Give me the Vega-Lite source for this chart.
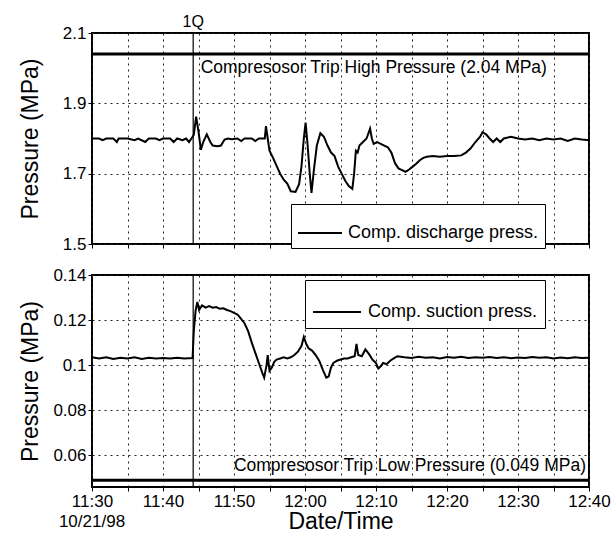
{
  "$schema": "https://vega.github.io/schema/vega-lite/v6.json",
  "padding": {"left": 18, "top": 13, "right": 0, "bottom": 0},
  "config": {
    "font": "Liberation Sans",
    "view": {"stroke": "black", "strokeWidth": 2},
    "axis": {
      "domain": false,
      "labelFontSize": 17,
      "labelColor": "black",
      "titleFontSize": 23,
      "titleFontWeight": "normal",
      "titleColor": "black",
      "tickColor": "black",
      "tickSize": 4,
      "labelPadding": 2,
      "gridColor": "#222222",
      "gridDash": [2, 4]
    },
    "concat": {"spacing": 12}
  },
  "datasets": {
    "discharge": [
      {"time": "1998-10-21T11:30:00", "pressure": 1.800, "series": "Comp. discharge press."},
      {"time": "1998-10-21T11:31:00", "pressure": 1.800, "series": "Comp. discharge press."},
      {"time": "1998-10-21T11:31:30", "pressure": 1.795, "series": "Comp. discharge press."},
      {"time": "1998-10-21T11:32:00", "pressure": 1.800, "series": "Comp. discharge press."},
      {"time": "1998-10-21T11:33:00", "pressure": 1.800, "series": "Comp. discharge press."},
      {"time": "1998-10-21T11:33:30", "pressure": 1.790, "series": "Comp. discharge press."},
      {"time": "1998-10-21T11:33:45", "pressure": 1.800, "series": "Comp. discharge press."},
      {"time": "1998-10-21T11:35:00", "pressure": 1.800, "series": "Comp. discharge press."},
      {"time": "1998-10-21T11:36:00", "pressure": 1.795, "series": "Comp. discharge press."},
      {"time": "1998-10-21T11:36:30", "pressure": 1.800, "series": "Comp. discharge press."},
      {"time": "1998-10-21T11:37:30", "pressure": 1.790, "series": "Comp. discharge press."},
      {"time": "1998-10-21T11:38:00", "pressure": 1.800, "series": "Comp. discharge press."},
      {"time": "1998-10-21T11:39:00", "pressure": 1.800, "series": "Comp. discharge press."},
      {"time": "1998-10-21T11:39:30", "pressure": 1.795, "series": "Comp. discharge press."},
      {"time": "1998-10-21T11:40:00", "pressure": 1.800, "series": "Comp. discharge press."},
      {"time": "1998-10-21T11:41:00", "pressure": 1.800, "series": "Comp. discharge press."},
      {"time": "1998-10-21T11:41:30", "pressure": 1.790, "series": "Comp. discharge press."},
      {"time": "1998-10-21T11:42:00", "pressure": 1.800, "series": "Comp. discharge press."},
      {"time": "1998-10-21T11:42:45", "pressure": 1.795, "series": "Comp. discharge press."},
      {"time": "1998-10-21T11:43:15", "pressure": 1.800, "series": "Comp. discharge press."},
      {"time": "1998-10-21T11:43:40", "pressure": 1.790, "series": "Comp. discharge press."},
      {"time": "1998-10-21T11:44:00", "pressure": 1.800, "series": "Comp. discharge press."},
      {"time": "1998-10-21T11:44:20", "pressure": 1.810, "series": "Comp. discharge press."},
      {"time": "1998-10-21T11:44:40", "pressure": 1.862, "series": "Comp. discharge press."},
      {"time": "1998-10-21T11:45:00", "pressure": 1.820, "series": "Comp. discharge press."},
      {"time": "1998-10-21T11:45:20", "pressure": 1.768, "series": "Comp. discharge press."},
      {"time": "1998-10-21T11:45:40", "pressure": 1.790, "series": "Comp. discharge press."},
      {"time": "1998-10-21T11:46:10", "pressure": 1.812, "series": "Comp. discharge press."},
      {"time": "1998-10-21T11:46:40", "pressure": 1.790, "series": "Comp. discharge press."},
      {"time": "1998-10-21T11:47:00", "pressure": 1.780, "series": "Comp. discharge press."},
      {"time": "1998-10-21T11:47:40", "pressure": 1.778, "series": "Comp. discharge press."},
      {"time": "1998-10-21T11:48:10", "pressure": 1.780, "series": "Comp. discharge press."},
      {"time": "1998-10-21T11:48:40", "pressure": 1.797, "series": "Comp. discharge press."},
      {"time": "1998-10-21T11:49:10", "pressure": 1.800, "series": "Comp. discharge press."},
      {"time": "1998-10-21T11:49:40", "pressure": 1.798, "series": "Comp. discharge press."},
      {"time": "1998-10-21T11:50:30", "pressure": 1.800, "series": "Comp. discharge press."},
      {"time": "1998-10-21T11:51:00", "pressure": 1.793, "series": "Comp. discharge press."},
      {"time": "1998-10-21T11:51:30", "pressure": 1.800, "series": "Comp. discharge press."},
      {"time": "1998-10-21T11:52:30", "pressure": 1.800, "series": "Comp. discharge press."},
      {"time": "1998-10-21T11:53:00", "pressure": 1.793, "series": "Comp. discharge press."},
      {"time": "1998-10-21T11:53:30", "pressure": 1.800, "series": "Comp. discharge press."},
      {"time": "1998-10-21T11:54:20", "pressure": 1.800, "series": "Comp. discharge press."},
      {"time": "1998-10-21T11:54:30", "pressure": 1.835, "series": "Comp. discharge press."},
      {"time": "1998-10-21T11:54:45", "pressure": 1.800, "series": "Comp. discharge press."},
      {"time": "1998-10-21T11:55:00", "pressure": 1.765, "series": "Comp. discharge press."},
      {"time": "1998-10-21T11:55:30", "pressure": 1.745, "series": "Comp. discharge press."},
      {"time": "1998-10-21T11:56:00", "pressure": 1.722, "series": "Comp. discharge press."},
      {"time": "1998-10-21T11:56:30", "pressure": 1.700, "series": "Comp. discharge press."},
      {"time": "1998-10-21T11:57:00", "pressure": 1.683, "series": "Comp. discharge press."},
      {"time": "1998-10-21T11:57:30", "pressure": 1.672, "series": "Comp. discharge press."},
      {"time": "1998-10-21T11:58:00", "pressure": 1.650, "series": "Comp. discharge press."},
      {"time": "1998-10-21T11:58:40", "pressure": 1.648, "series": "Comp. discharge press."},
      {"time": "1998-10-21T11:59:10", "pressure": 1.670, "series": "Comp. discharge press."},
      {"time": "1998-10-21T11:59:30", "pressure": 1.720, "series": "Comp. discharge press."},
      {"time": "1998-10-21T11:59:50", "pressure": 1.800, "series": "Comp. discharge press."},
      {"time": "1998-10-21T12:00:05", "pressure": 1.845, "series": "Comp. discharge press."},
      {"time": "1998-10-21T12:00:20", "pressure": 1.790, "series": "Comp. discharge press."},
      {"time": "1998-10-21T12:00:40", "pressure": 1.700, "series": "Comp. discharge press."},
      {"time": "1998-10-21T12:00:55", "pressure": 1.645, "series": "Comp. discharge press."},
      {"time": "1998-10-21T12:01:15", "pressure": 1.710, "series": "Comp. discharge press."},
      {"time": "1998-10-21T12:01:40", "pressure": 1.780, "series": "Comp. discharge press."},
      {"time": "1998-10-21T12:02:10", "pressure": 1.815, "series": "Comp. discharge press."},
      {"time": "1998-10-21T12:02:40", "pressure": 1.805, "series": "Comp. discharge press."},
      {"time": "1998-10-21T12:03:10", "pressure": 1.780, "series": "Comp. discharge press."},
      {"time": "1998-10-21T12:03:40", "pressure": 1.760, "series": "Comp. discharge press."},
      {"time": "1998-10-21T12:04:10", "pressure": 1.750, "series": "Comp. discharge press."},
      {"time": "1998-10-21T12:04:40", "pressure": 1.720, "series": "Comp. discharge press."},
      {"time": "1998-10-21T12:05:10", "pressure": 1.700, "series": "Comp. discharge press."},
      {"time": "1998-10-21T12:05:40", "pressure": 1.680, "series": "Comp. discharge press."},
      {"time": "1998-10-21T12:06:10", "pressure": 1.665, "series": "Comp. discharge press."},
      {"time": "1998-10-21T12:06:40", "pressure": 1.657, "series": "Comp. discharge press."},
      {"time": "1998-10-21T12:06:55", "pressure": 1.700, "series": "Comp. discharge press."},
      {"time": "1998-10-21T12:07:10", "pressure": 1.765, "series": "Comp. discharge press."},
      {"time": "1998-10-21T12:07:25", "pressure": 1.760, "series": "Comp. discharge press."},
      {"time": "1998-10-21T12:07:40", "pressure": 1.780, "series": "Comp. discharge press."},
      {"time": "1998-10-21T12:08:10", "pressure": 1.790, "series": "Comp. discharge press."},
      {"time": "1998-10-21T12:08:40", "pressure": 1.800, "series": "Comp. discharge press."},
      {"time": "1998-10-21T12:09:10", "pressure": 1.828, "series": "Comp. discharge press."},
      {"time": "1998-10-21T12:09:25", "pressure": 1.800, "series": "Comp. discharge press."},
      {"time": "1998-10-21T12:09:40", "pressure": 1.785, "series": "Comp. discharge press."},
      {"time": "1998-10-21T12:10:10", "pressure": 1.790, "series": "Comp. discharge press."},
      {"time": "1998-10-21T12:10:40", "pressure": 1.785, "series": "Comp. discharge press."},
      {"time": "1998-10-21T12:11:10", "pressure": 1.780, "series": "Comp. discharge press."},
      {"time": "1998-10-21T12:11:40", "pressure": 1.775, "series": "Comp. discharge press."},
      {"time": "1998-10-21T12:12:10", "pressure": 1.760, "series": "Comp. discharge press."},
      {"time": "1998-10-21T12:12:40", "pressure": 1.730, "series": "Comp. discharge press."},
      {"time": "1998-10-21T12:13:10", "pressure": 1.715, "series": "Comp. discharge press."},
      {"time": "1998-10-21T12:13:40", "pressure": 1.710, "series": "Comp. discharge press."},
      {"time": "1998-10-21T12:14:10", "pressure": 1.705, "series": "Comp. discharge press."},
      {"time": "1998-10-21T12:14:40", "pressure": 1.712, "series": "Comp. discharge press."},
      {"time": "1998-10-21T12:15:10", "pressure": 1.720, "series": "Comp. discharge press."},
      {"time": "1998-10-21T12:15:40", "pressure": 1.728, "series": "Comp. discharge press."},
      {"time": "1998-10-21T12:16:10", "pressure": 1.738, "series": "Comp. discharge press."},
      {"time": "1998-10-21T12:16:40", "pressure": 1.745, "series": "Comp. discharge press."},
      {"time": "1998-10-21T12:17:10", "pressure": 1.748, "series": "Comp. discharge press."},
      {"time": "1998-10-21T12:18:00", "pressure": 1.750, "series": "Comp. discharge press."},
      {"time": "1998-10-21T12:19:00", "pressure": 1.748, "series": "Comp. discharge press."},
      {"time": "1998-10-21T12:20:00", "pressure": 1.750, "series": "Comp. discharge press."},
      {"time": "1998-10-21T12:21:00", "pressure": 1.750, "series": "Comp. discharge press."},
      {"time": "1998-10-21T12:22:00", "pressure": 1.752, "series": "Comp. discharge press."},
      {"time": "1998-10-21T12:22:40", "pressure": 1.760, "series": "Comp. discharge press."},
      {"time": "1998-10-21T12:23:20", "pressure": 1.772, "series": "Comp. discharge press."},
      {"time": "1998-10-21T12:24:00", "pressure": 1.790, "series": "Comp. discharge press."},
      {"time": "1998-10-21T12:24:40", "pressure": 1.805, "series": "Comp. discharge press."},
      {"time": "1998-10-21T12:25:00", "pressure": 1.818, "series": "Comp. discharge press."},
      {"time": "1998-10-21T12:25:30", "pressure": 1.812, "series": "Comp. discharge press."},
      {"time": "1998-10-21T12:26:00", "pressure": 1.800, "series": "Comp. discharge press."},
      {"time": "1998-10-21T12:26:30", "pressure": 1.790, "series": "Comp. discharge press."},
      {"time": "1998-10-21T12:27:00", "pressure": 1.800, "series": "Comp. discharge press."},
      {"time": "1998-10-21T12:27:30", "pressure": 1.790, "series": "Comp. discharge press."},
      {"time": "1998-10-21T12:28:00", "pressure": 1.800, "series": "Comp. discharge press."},
      {"time": "1998-10-21T12:29:00", "pressure": 1.805, "series": "Comp. discharge press."},
      {"time": "1998-10-21T12:30:00", "pressure": 1.800, "series": "Comp. discharge press."},
      {"time": "1998-10-21T12:31:00", "pressure": 1.797, "series": "Comp. discharge press."},
      {"time": "1998-10-21T12:32:00", "pressure": 1.800, "series": "Comp. discharge press."},
      {"time": "1998-10-21T12:33:00", "pressure": 1.795, "series": "Comp. discharge press."},
      {"time": "1998-10-21T12:34:00", "pressure": 1.800, "series": "Comp. discharge press."},
      {"time": "1998-10-21T12:35:00", "pressure": 1.797, "series": "Comp. discharge press."},
      {"time": "1998-10-21T12:36:00", "pressure": 1.800, "series": "Comp. discharge press."},
      {"time": "1998-10-21T12:37:00", "pressure": 1.793, "series": "Comp. discharge press."},
      {"time": "1998-10-21T12:38:00", "pressure": 1.800, "series": "Comp. discharge press."},
      {"time": "1998-10-21T12:39:00", "pressure": 1.797, "series": "Comp. discharge press."},
      {"time": "1998-10-21T12:40:00", "pressure": 1.795, "series": "Comp. discharge press."}
    ],
    "suction": [
      {"time": "1998-10-21T11:30:00", "pressure": 0.1035, "series": "Comp. suction press."},
      {"time": "1998-10-21T11:31:00", "pressure": 0.1030, "series": "Comp. suction press."},
      {"time": "1998-10-21T11:32:00", "pressure": 0.1035, "series": "Comp. suction press."},
      {"time": "1998-10-21T11:33:00", "pressure": 0.1028, "series": "Comp. suction press."},
      {"time": "1998-10-21T11:34:00", "pressure": 0.1033, "series": "Comp. suction press."},
      {"time": "1998-10-21T11:35:00", "pressure": 0.1030, "series": "Comp. suction press."},
      {"time": "1998-10-21T11:36:00", "pressure": 0.1035, "series": "Comp. suction press."},
      {"time": "1998-10-21T11:37:00", "pressure": 0.1028, "series": "Comp. suction press."},
      {"time": "1998-10-21T11:38:00", "pressure": 0.1033, "series": "Comp. suction press."},
      {"time": "1998-10-21T11:39:00", "pressure": 0.1030, "series": "Comp. suction press."},
      {"time": "1998-10-21T11:40:00", "pressure": 0.1032, "series": "Comp. suction press."},
      {"time": "1998-10-21T11:41:00", "pressure": 0.1030, "series": "Comp. suction press."},
      {"time": "1998-10-21T11:42:00", "pressure": 0.1033, "series": "Comp. suction press."},
      {"time": "1998-10-21T11:43:00", "pressure": 0.1030, "series": "Comp. suction press."},
      {"time": "1998-10-21T11:44:10", "pressure": 0.1032, "series": "Comp. suction press."},
      {"time": "1998-10-21T11:44:20", "pressure": 0.1150, "series": "Comp. suction press."},
      {"time": "1998-10-21T11:44:35", "pressure": 0.1240, "series": "Comp. suction press."},
      {"time": "1998-10-21T11:44:50", "pressure": 0.1280, "series": "Comp. suction press."},
      {"time": "1998-10-21T11:45:05", "pressure": 0.1245, "series": "Comp. suction press."},
      {"time": "1998-10-21T11:45:30", "pressure": 0.1265, "series": "Comp. suction press."},
      {"time": "1998-10-21T11:46:00", "pressure": 0.1255, "series": "Comp. suction press."},
      {"time": "1998-10-21T11:46:30", "pressure": 0.1262, "series": "Comp. suction press."},
      {"time": "1998-10-21T11:47:00", "pressure": 0.1255, "series": "Comp. suction press."},
      {"time": "1998-10-21T11:47:30", "pressure": 0.1258, "series": "Comp. suction press."},
      {"time": "1998-10-21T11:48:00", "pressure": 0.1250, "series": "Comp. suction press."},
      {"time": "1998-10-21T11:48:30", "pressure": 0.1252, "series": "Comp. suction press."},
      {"time": "1998-10-21T11:49:00", "pressure": 0.1245, "series": "Comp. suction press."},
      {"time": "1998-10-21T11:49:30", "pressure": 0.1240, "series": "Comp. suction press."},
      {"time": "1998-10-21T11:50:00", "pressure": 0.1232, "series": "Comp. suction press."},
      {"time": "1998-10-21T11:50:30", "pressure": 0.1225, "series": "Comp. suction press."},
      {"time": "1998-10-21T11:51:00", "pressure": 0.1205, "series": "Comp. suction press."},
      {"time": "1998-10-21T11:51:30", "pressure": 0.1185, "series": "Comp. suction press."},
      {"time": "1998-10-21T11:52:00", "pressure": 0.1150, "series": "Comp. suction press."},
      {"time": "1998-10-21T11:52:30", "pressure": 0.1100, "series": "Comp. suction press."},
      {"time": "1998-10-21T11:53:00", "pressure": 0.1055, "series": "Comp. suction press."},
      {"time": "1998-10-21T11:53:30", "pressure": 0.1010, "series": "Comp. suction press."},
      {"time": "1998-10-21T11:54:00", "pressure": 0.0965, "series": "Comp. suction press."},
      {"time": "1998-10-21T11:54:15", "pressure": 0.0945, "series": "Comp. suction press."},
      {"time": "1998-10-21T11:54:35", "pressure": 0.1000, "series": "Comp. suction press."},
      {"time": "1998-10-21T11:54:45", "pressure": 0.1045, "series": "Comp. suction press."},
      {"time": "1998-10-21T11:55:00", "pressure": 0.0975, "series": "Comp. suction press."},
      {"time": "1998-10-21T11:55:20", "pressure": 0.0990, "series": "Comp. suction press."},
      {"time": "1998-10-21T11:55:40", "pressure": 0.1015, "series": "Comp. suction press."},
      {"time": "1998-10-21T11:56:00", "pressure": 0.1025, "series": "Comp. suction press."},
      {"time": "1998-10-21T11:56:30", "pressure": 0.1030, "series": "Comp. suction press."},
      {"time": "1998-10-21T11:57:00", "pressure": 0.1035, "series": "Comp. suction press."},
      {"time": "1998-10-21T11:57:30", "pressure": 0.1030, "series": "Comp. suction press."},
      {"time": "1998-10-21T11:58:00", "pressure": 0.1035, "series": "Comp. suction press."},
      {"time": "1998-10-21T11:58:30", "pressure": 0.1045, "series": "Comp. suction press."},
      {"time": "1998-10-21T11:59:00", "pressure": 0.1060, "series": "Comp. suction press."},
      {"time": "1998-10-21T11:59:30", "pressure": 0.1085, "series": "Comp. suction press."},
      {"time": "1998-10-21T11:59:50", "pressure": 0.1125, "series": "Comp. suction press."},
      {"time": "1998-10-21T12:00:10", "pressure": 0.1095, "series": "Comp. suction press."},
      {"time": "1998-10-21T12:00:30", "pressure": 0.1075, "series": "Comp. suction press."},
      {"time": "1998-10-21T12:01:00", "pressure": 0.1065, "series": "Comp. suction press."},
      {"time": "1998-10-21T12:01:30", "pressure": 0.1045, "series": "Comp. suction press."},
      {"time": "1998-10-21T12:02:00", "pressure": 0.1020, "series": "Comp. suction press."},
      {"time": "1998-10-21T12:02:30", "pressure": 0.0980, "series": "Comp. suction press."},
      {"time": "1998-10-21T12:03:00", "pressure": 0.0945, "series": "Comp. suction press."},
      {"time": "1998-10-21T12:03:20", "pressure": 0.0950, "series": "Comp. suction press."},
      {"time": "1998-10-21T12:03:40", "pressure": 0.0990, "series": "Comp. suction press."},
      {"time": "1998-10-21T12:04:00", "pressure": 0.1010, "series": "Comp. suction press."},
      {"time": "1998-10-21T12:04:30", "pressure": 0.1020, "series": "Comp. suction press."},
      {"time": "1998-10-21T12:05:00", "pressure": 0.1025, "series": "Comp. suction press."},
      {"time": "1998-10-21T12:05:30", "pressure": 0.1030, "series": "Comp. suction press."},
      {"time": "1998-10-21T12:06:00", "pressure": 0.1030, "series": "Comp. suction press."},
      {"time": "1998-10-21T12:06:30", "pressure": 0.1035, "series": "Comp. suction press."},
      {"time": "1998-10-21T12:07:00", "pressure": 0.1040, "series": "Comp. suction press."},
      {"time": "1998-10-21T12:07:15", "pressure": 0.1095, "series": "Comp. suction press."},
      {"time": "1998-10-21T12:07:30", "pressure": 0.1045, "series": "Comp. suction press."},
      {"time": "1998-10-21T12:08:00", "pressure": 0.1040, "series": "Comp. suction press."},
      {"time": "1998-10-21T12:08:30", "pressure": 0.1070, "series": "Comp. suction press."},
      {"time": "1998-10-21T12:09:00", "pressure": 0.1050, "series": "Comp. suction press."},
      {"time": "1998-10-21T12:09:30", "pressure": 0.1025, "series": "Comp. suction press."},
      {"time": "1998-10-21T12:10:00", "pressure": 0.1010, "series": "Comp. suction press."},
      {"time": "1998-10-21T12:10:20", "pressure": 0.0985, "series": "Comp. suction press."},
      {"time": "1998-10-21T12:10:40", "pressure": 0.0995, "series": "Comp. suction press."},
      {"time": "1998-10-21T12:11:00", "pressure": 0.1010, "series": "Comp. suction press."},
      {"time": "1998-10-21T12:11:30", "pressure": 0.1005, "series": "Comp. suction press."},
      {"time": "1998-10-21T12:12:00", "pressure": 0.1020, "series": "Comp. suction press."},
      {"time": "1998-10-21T12:12:30", "pressure": 0.1030, "series": "Comp. suction press."},
      {"time": "1998-10-21T12:13:00", "pressure": 0.1040, "series": "Comp. suction press."},
      {"time": "1998-10-21T12:14:00", "pressure": 0.1035, "series": "Comp. suction press."},
      {"time": "1998-10-21T12:15:00", "pressure": 0.1032, "series": "Comp. suction press."},
      {"time": "1998-10-21T12:16:00", "pressure": 0.1038, "series": "Comp. suction press."},
      {"time": "1998-10-21T12:17:00", "pressure": 0.1033, "series": "Comp. suction press."},
      {"time": "1998-10-21T12:18:00", "pressure": 0.1035, "series": "Comp. suction press."},
      {"time": "1998-10-21T12:19:00", "pressure": 0.1030, "series": "Comp. suction press."},
      {"time": "1998-10-21T12:20:00", "pressure": 0.1036, "series": "Comp. suction press."},
      {"time": "1998-10-21T12:21:00", "pressure": 0.1033, "series": "Comp. suction press."},
      {"time": "1998-10-21T12:22:00", "pressure": 0.1037, "series": "Comp. suction press."},
      {"time": "1998-10-21T12:23:00", "pressure": 0.1032, "series": "Comp. suction press."},
      {"time": "1998-10-21T12:24:00", "pressure": 0.1035, "series": "Comp. suction press."},
      {"time": "1998-10-21T12:25:00", "pressure": 0.1033, "series": "Comp. suction press."},
      {"time": "1998-10-21T12:26:00", "pressure": 0.1036, "series": "Comp. suction press."},
      {"time": "1998-10-21T12:27:00", "pressure": 0.1032, "series": "Comp. suction press."},
      {"time": "1998-10-21T12:28:00", "pressure": 0.1035, "series": "Comp. suction press."},
      {"time": "1998-10-21T12:29:00", "pressure": 0.1031, "series": "Comp. suction press."},
      {"time": "1998-10-21T12:30:00", "pressure": 0.1034, "series": "Comp. suction press."},
      {"time": "1998-10-21T12:31:00", "pressure": 0.1032, "series": "Comp. suction press."},
      {"time": "1998-10-21T12:32:00", "pressure": 0.1036, "series": "Comp. suction press."},
      {"time": "1998-10-21T12:33:00", "pressure": 0.1033, "series": "Comp. suction press."},
      {"time": "1998-10-21T12:34:00", "pressure": 0.1035, "series": "Comp. suction press."},
      {"time": "1998-10-21T12:35:00", "pressure": 0.1030, "series": "Comp. suction press."},
      {"time": "1998-10-21T12:36:00", "pressure": 0.1034, "series": "Comp. suction press."},
      {"time": "1998-10-21T12:37:00", "pressure": 0.1031, "series": "Comp. suction press."},
      {"time": "1998-10-21T12:38:00", "pressure": 0.1035, "series": "Comp. suction press."},
      {"time": "1998-10-21T12:39:00", "pressure": 0.1032, "series": "Comp. suction press."},
      {"time": "1998-10-21T12:40:00", "pressure": 0.1033, "series": "Comp. suction press."}
    ],
    "event": [{"time": "1998-10-21T11:44:15", "label": "1Q"}]
  },
  "vconcat": [
    {
      "width": 497,
      "height": 211,
      "layer": [
        {
          "data": {"name": "discharge"},
          "mark": {"type": "line", "strokeWidth": 2},
          "encoding": {
            "x": {
              "field": "time", "type": "temporal",
              "scale": {"domain": [{"year": 1998, "month": 10, "date": 21, "hours": 11, "minutes": 30}, {"year": 1998, "month": 10, "date": 21, "hours": 12, "minutes": 40}]},
              "axis": {"title": null, "labels": false, "grid": true}
            },
            "y": {
              "field": "pressure", "type": "quantitative",
              "scale": {"domain": [1.5, 2.1], "nice": false, "zero": false},
              "axis": {
                "title": "Pressure (MPa)", "grid": true,
                "values": [1.5, 1.6, 1.7, 1.8, 1.9, 2.0, 2.1],
                "format": "~g",
                "labelOverlap": false,
                "titlePadding": 20
              }
            },
            "color": {
              "field": "series", "type": "nominal",
              "scale": {"range": ["black"]},
              "legend": {
                "orient": "none", "legendX": 199, "legendY": 171, "title": null,
                "strokeColor": "black", "fillColor": "white", "padding": 6,
                "labelFontSize": 18, "labelColor": "black", "labelOffset": 5, "labelLimit": 300,
                "symbolType": "stroke", "symbolStrokeWidth": 2, "symbolSize": 1936
              }
            }
          }
        },
        {
          "data": {"values": [{"pressure": 2.04}]},
          "mark": {"type": "rule", "strokeWidth": 3, "color": "black"},
          "encoding": {
            "y": {"field": "pressure", "type": "quantitative"}
          }
        },
        {
          "data": {"name": "event"},
          "mark": {"type": "rule", "strokeWidth": 1.2, "color": "black"},
          "encoding": {
            "x": {"field": "time", "type": "temporal"}
          }
        },
        {
          "data": {"name": "event"},
          "mark": {"type": "text", "fontSize": 16, "baseline": "bottom", "dy": -3},
          "encoding": {
            "x": {"field": "time", "type": "temporal"},
            "y": {"datum": 2.1, "type": "quantitative"},
            "text": {"field": "label"}
          }
        },
        {
          "data": {"values": [{"time": "1998-10-21T11:45:18", "pressure": 2.0, "label": "Compresosor Trip High Pressure (2.04 MPa)"}]},
          "mark": {"type": "text", "fontSize": 17.5, "align": "left", "baseline": "middle"},
          "encoding": {
            "x": {"field": "time", "type": "temporal"},
            "y": {"field": "pressure", "type": "quantitative"},
            "text": {"field": "label"}
          }
        }
      ]
    },
    {
      "width": 497,
      "height": 212,
      "layer": [
        {
          "data": {"name": "suction"},
          "mark": {"type": "line", "strokeWidth": 2},
          "encoding": {
            "x": {
              "field": "time", "type": "temporal",
              "scale": {"domain": [{"year": 1998, "month": 10, "date": 21, "hours": 11, "minutes": 30}, {"year": 1998, "month": 10, "date": 21, "hours": 12, "minutes": 40}]},
              "axis": {"title": "Date/Time", "grid": true, "format": "%H:%M", "labelFlush": false, "titlePadding": 1}
            },
            "y": {
              "field": "pressure", "type": "quantitative",
              "scale": {"domain": [0.046, 0.14], "nice": false, "zero": false},
              "axis": {
                "title": "Pressure (MPa)", "grid": true,
                "values": [0.06, 0.08, 0.1, 0.12, 0.14],
                "format": "~g",
                "labelOverlap": false,
                "titlePadding": 10
              }
            },
            "color": {
              "field": "series", "type": "nominal",
              "scale": {"range": ["black"]},
              "legend": {
                "orient": "none", "legendX": 213, "legendY": 5, "title": null,
                "strokeColor": "black", "fillColor": "white", "padding": 7,
                "labelFontSize": 18, "labelColor": "black", "labelOffset": 6, "labelLimit": 300,
                "symbolType": "stroke", "symbolStrokeWidth": 2, "symbolSize": 2304
              }
            }
          }
        },
        {
          "data": {"values": [{"pressure": 0.049}]},
          "mark": {"type": "rule", "strokeWidth": 3, "color": "black"},
          "encoding": {
            "y": {"field": "pressure", "type": "quantitative"}
          }
        },
        {
          "data": {"name": "event"},
          "mark": {"type": "rule", "strokeWidth": 1.2, "color": "black"},
          "encoding": {
            "x": {"field": "time", "type": "temporal"}
          }
        },
        {
          "data": {"values": [{"time": "1998-10-21T12:40:00", "pressure": 0.0551, "label": "Compresosor Trip Low Pressure (0.049 MPa)"}]},
          "mark": {"type": "text", "fontSize": 17.5, "align": "right", "baseline": "middle", "dx": -3},
          "encoding": {
            "x": {"field": "time", "type": "temporal"},
            "y": {"field": "pressure", "type": "quantitative"},
            "text": {"field": "label"}
          }
        },
        {
          "data": {"values": [{"time": "1998-10-21T11:30:00", "pressure": 0.046, "label": "10/21/98"}]},
          "mark": {"type": "text", "fontSize": 17, "align": "center", "baseline": "top", "dy": 27},
          "encoding": {
            "x": {"field": "time", "type": "temporal"},
            "y": {"field": "pressure", "type": "quantitative"},
            "text": {"field": "label"}
          }
        }
      ]
    }
  ],
  "resolve": {"scale": {"color": "independent"}, "legend": {"color": "independent"}}
}
